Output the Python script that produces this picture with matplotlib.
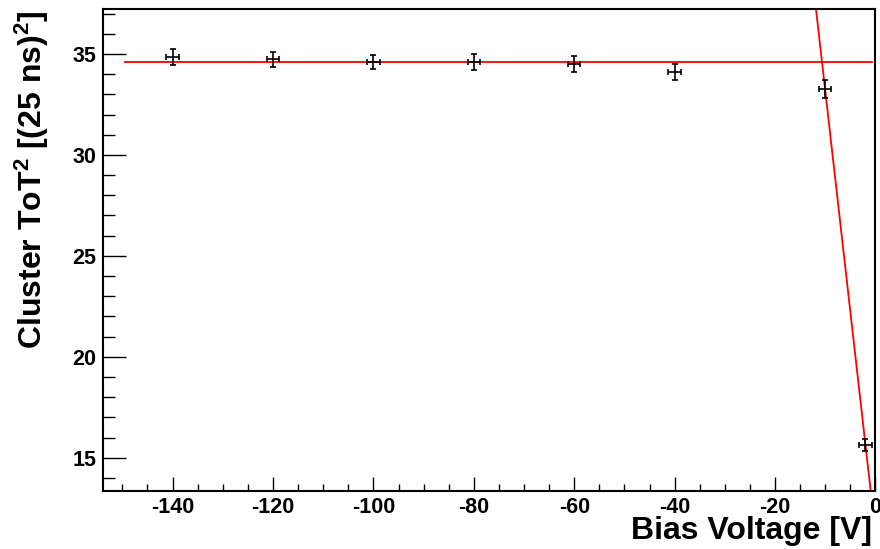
import matplotlib
matplotlib.use('Agg')
import matplotlib.pyplot as plt
import numpy as np
from matplotlib.ticker import MultipleLocator

plt.rcParams['font.family'] = ['Liberation Sans', 'DejaVu Sans']
plt.rcParams['font.weight'] = 'bold'
plt.rcParams['axes.unicode_minus'] = False
plt.rcParams['mathtext.fontset'] = 'custom'
plt.rcParams['mathtext.rm'] = 'Liberation Sans:bold'
plt.rcParams['mathtext.it'] = 'Liberation Sans:bold'
plt.rcParams['mathtext.bf'] = 'Liberation Sans:bold'

# bias scan: mean cluster ToT^2 per bias point
bias = [-140, -120, -100, -80, -60, -40, -10, -2]
tot2 = [34.84, 34.74, 34.60, 34.60, 34.49, 34.11, 33.27, 15.63]
tot2_err = [0.39, 0.38, 0.37, 0.38, 0.39, 0.39, 0.43, 0.29]
bias_err = 1.25

# plateau fit (constant) and rising-edge fit (linear)
plateau = 34.59
plateau_range = (-149.5, -0.7)
edge_slope = -2.19
edge_offset = 11.29

fig = plt.figure(figsize=(8.8, 5.49), dpi=100)
ax = fig.add_axes([0.1174, 0.1056, 0.8774, 0.8774])

ax.errorbar(bias, tot2, yerr=tot2_err, xerr=bias_err, fmt='none',
            ecolor='black', elinewidth=1.2, capsize=2.4, capthick=1.2, zorder=3)

ax.plot(plateau_range, [plateau, plateau], color='red', lw=1.3, zorder=2)
xe = np.array([-14.0, 0.0])
ax.plot(xe, edge_offset + edge_slope * xe, color='red', lw=1.3, zorder=2)

ax.set_xlim(-153.8, 0.0)
ax.set_ylim(13.35, 37.21)

ax.xaxis.set_major_locator(MultipleLocator(20))
ax.xaxis.set_minor_locator(MultipleLocator(5))
ax.yaxis.set_major_locator(MultipleLocator(5))
ax.yaxis.set_minor_locator(MultipleLocator(1))

ax.tick_params(axis='both', which='both', direction='in', top=False, right=False,
               width=1.0, labelsize=15.5)
ax.tick_params(axis='x', which='major', length=10, pad=4)
ax.tick_params(axis='x', which='minor', length=5)
ax.tick_params(axis='y', which='major', length=16.5, pad=5)
ax.tick_params(axis='y', which='minor', length=8.5)
for lab in ax.get_xticklabels() + ax.get_yticklabels():
    lab.set_fontweight('bold')

for sp in ax.spines.values():
    sp.set_linewidth(1.5)

ax.set_xlabel('Bias Voltage [V]', fontsize=23, fontweight='bold', loc='right')
ax.set_ylabel('Cluster ToT$^{2}$ [(25 ns)$^{2}$]', fontsize=23, fontweight='bold', loc='top')
ax.xaxis.set_label_coords(0.996, -0.051)
ax.yaxis.set_label_coords(-0.068, 0.998)

fig.savefig('out.png', dpi=100)
